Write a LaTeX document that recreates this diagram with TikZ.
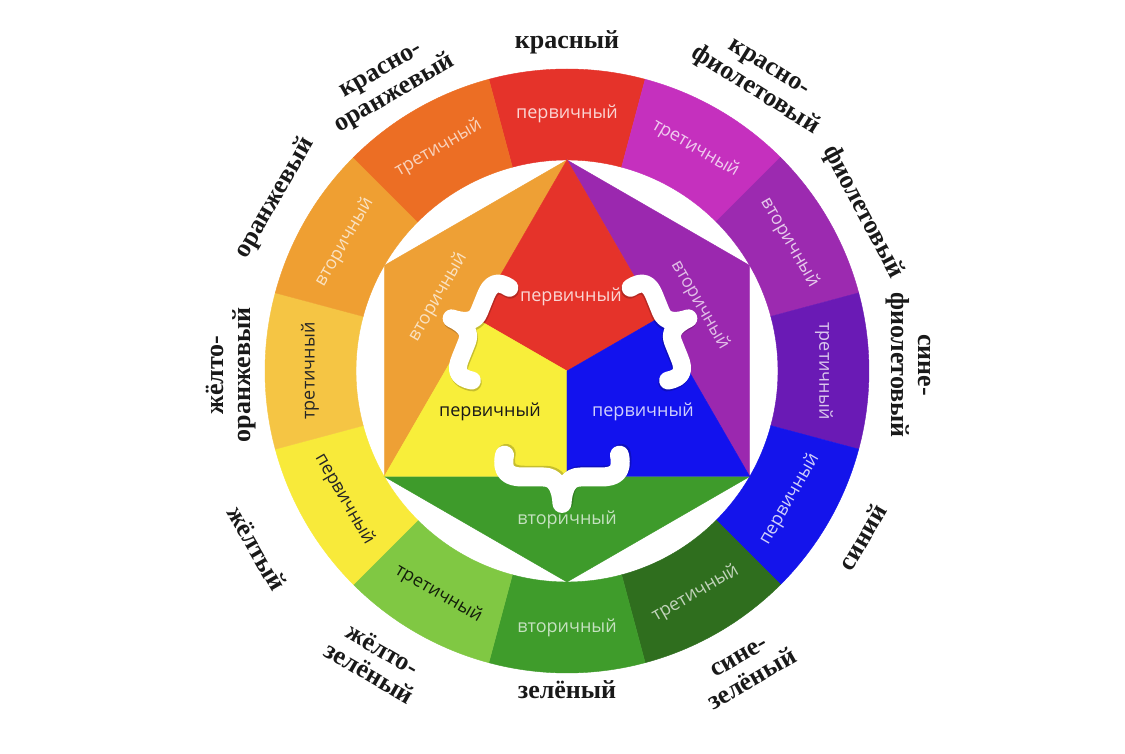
\documentclass[tikz,border=0pt]{standalone}
\usepackage{fontspec}
\setmainfont{Liberation Serif}
\newfontfamily\segfont{Open Sans}
\definecolor{cRed}{HTML}{E5332A}
\definecolor{cRedViolet}{HTML}{C530BE}
\definecolor{cViolet}{HTML}{9C2AB0}
\definecolor{cBlueViolet}{HTML}{6A1AB5}
\definecolor{cBlue}{HTML}{1414EB}
\definecolor{cBlueGreen}{HTML}{2F6E1E}
\definecolor{cGreen}{HTML}{3F9C2B}
\definecolor{cYellowGreen}{HTML}{80C843}
\definecolor{cYellow}{HTML}{F8EA3A}
\definecolor{cYellowOrange}{HTML}{F5C544}
\definecolor{cOrange}{HTML}{EF9F32}
\definecolor{cRedOrange}{HTML}{EC6E24}
\definecolor{hOrange}{HTML}{EEA035}
\definecolor{hViolet}{HTML}{9B28AF}
\definecolor{hGreen}{HTML}{3E9B2B}
\definecolor{hRed}{HTML}{E5332A}
\definecolor{hYellow}{HTML}{F8EE3A}
\definecolor{hBlue}{HTML}{1212EE}
\tikzset{
  curlymark/.pic={
    \draw[black, opacity=0.2, line width=#1, line cap=round, line join=round, shift={(1.5,-1.5)}]
      (19,50) .. controls (4,53) and (0,46) .. (0,34) -- (0,16)
      .. controls (0,6) and (-8,1) .. (-23,0)
      .. controls (-8,-1) and (0,-6) .. (0,-16) -- (0,-34)
      .. controls (0,-46) and (4,-53) .. (19,-50);
    \draw[white, line width=#1, line cap=round, line join=round]
      (19,50) .. controls (4,53) and (0,46) .. (0,34) -- (0,16)
      .. controls (0,6) and (-8,1) .. (-23,0)
      .. controls (-8,-1) and (0,-6) .. (0,-16) -- (0,-34)
      .. controls (0,-46) and (4,-53) .. (19,-50);
  }
}
\begin{document}
\begin{tikzpicture}[x=1pt,y=1pt,
  seglab/.style={font=\segfont\fontsize{18}{18}\selectfont, inner sep=0pt},
  outlab/.style={font=\bfseries\fontsize{26}{27}\selectfont, align=center, inner sep=0pt, text=black!90}
]
\useasboundingbox (-567,-383) rectangle (558,371);
\fill[white] (-567,-383) rectangle (558,371);
\def\rin{211}
\def\rout{302}
% ring segments
\foreach \k/\col/\txt/\tcol/\rot in {
  0/cRed/первичный/white!80!cRed/0,
  1/cRedViolet/третичный/white!75!cRedViolet/-30,
  2/cViolet/вторичный/white!75!cViolet/-60,
  3/cBlueViolet/третичный/white!75!cBlueViolet/-90,
  4/cBlue/первичный/white!80!cBlue/60,
  5/cBlueGreen/третичный/white!70!cBlueGreen/30,
  6/cGreen/вторичный/white!70!cGreen/0,
  7/cYellowGreen/третичный/black!85!cYellowGreen/-30,
  8/cYellow/первичный/black!85/-60,
  9/cYellowOrange/третичный/black!85/90,
  10/cOrange/вторичный/white!70!cOrange/60,
  11/cRedOrange/третичный/white!70!cRedOrange/30}{
  \pgfmathsetmacro\a{90-30*\k}
  \pgfmathsetmacro\aa{\a-15}
  \pgfmathsetmacro\ab{\a+15}
  \fill[\col, draw=\col, line width=0.4pt] (\aa:\rin) arc[start angle=\aa, end angle=\ab, radius=\rin]
     -- (\ab:\rout) arc[start angle=\ab, end angle=\aa, radius=\rout] -- cycle;
  \node[seglab, rotate=\rot, text=\tcol] (s\k) at (\a:257) {\txt};
}
% hexagon
\coordinate (T) at (90:\rin);
\coordinate (UL) at (150:\rin);
\coordinate (LL) at (210:\rin);
\coordinate (B) at (270:\rin);
\coordinate (LR) at (330:\rin);
\coordinate (UR) at (30:\rin);
\coordinate (O) at (0,0);
\coordinate (ML) at (-91.4,52.75);
\coordinate (MR) at (91.4,52.75);
\coordinate (MB) at (0,-105.5);
\fill[hOrange, draw=hOrange, line width=0.4pt] (T) -- (UL) -- (LL) -- cycle;
\fill[hViolet, draw=hViolet, line width=0.4pt] (T) -- (UR) -- (LR) -- cycle;
\fill[hGreen, draw=hGreen, line width=0.4pt] (LL) -- (B) -- (LR) -- cycle;
\fill[hRed, draw=hRed, line width=0.4pt] (T) -- (ML) -- (O) -- (MR) -- cycle;
\fill[hYellow, draw=hYellow, line width=0.4pt] (LL) -- (ML) -- (O) -- (MB) -- cycle;
\fill[hBlue, draw=hBlue, line width=0.4pt] (LR) -- (MR) -- (O) -- (MB) -- cycle;
% inner labels
\node[seglab, text=white!80!hRed] (iRed) at (4,74) {первичный};
\node[seglab, text=black!90] (iYellow) at (-77,-41) {первичный};
\node[seglab, text=white!80!hBlue] (iBlue) at (76,-41) {первичный};
\node[seglab, rotate=60, text=white!70!hOrange] (iOrange) at (-129,74) {вторичный};
\node[seglab, rotate=-60, text=white!70!hViolet] (iViolet) at (133,66) {вторичный};
\node[seglab, text=white!70!hGreen] (iGreen) at (0,-149) {вторичный};
% braces
\pic[rotate=-22] at (-94,44) {curlymark=18};
\pic[rotate=22, xscale=-1] at (100,44) {curlymark=18};
\pic[rotate=90, scale=1.15] at (-5,-106) {curlymark=19};
% outer labels
\node[outlab] (oR) at (0,329) {красный};
\node[outlab, rotate=-32] (oRV) at (194,290) {красно-\\фиолетовый};
\node[outlab, rotate=-62] (oV) at (296,159) {фиолетовый};
\node[outlab, rotate=-90] (oBV) at (341,6) {сине-\\фиолетовый};
\node[outlab, rotate=60] (oB) at (295,-166) {синий};
\node[outlab, rotate=30] (oBG) at (179,-298) {сине-\\зелёный};
\node[outlab] (oG) at (0,-319) {зелёный};
\node[outlab, rotate=-30] (oYG) at (-191,-290) {жёлто-\\зелёный};
\node[outlab, rotate=-60] (oY) at (-310,-177) {жёлтый};
\node[outlab, rotate=90] (oYO) at (-336,-4) {жёлто-\\оранжевый};
\node[outlab, rotate=60] (oO) at (-292,173) {оранжевый};
\node[outlab, rotate=30] (oRO) at (-178,287) {красно-\\оранжевый};
\end{tikzpicture}
\end{document}
